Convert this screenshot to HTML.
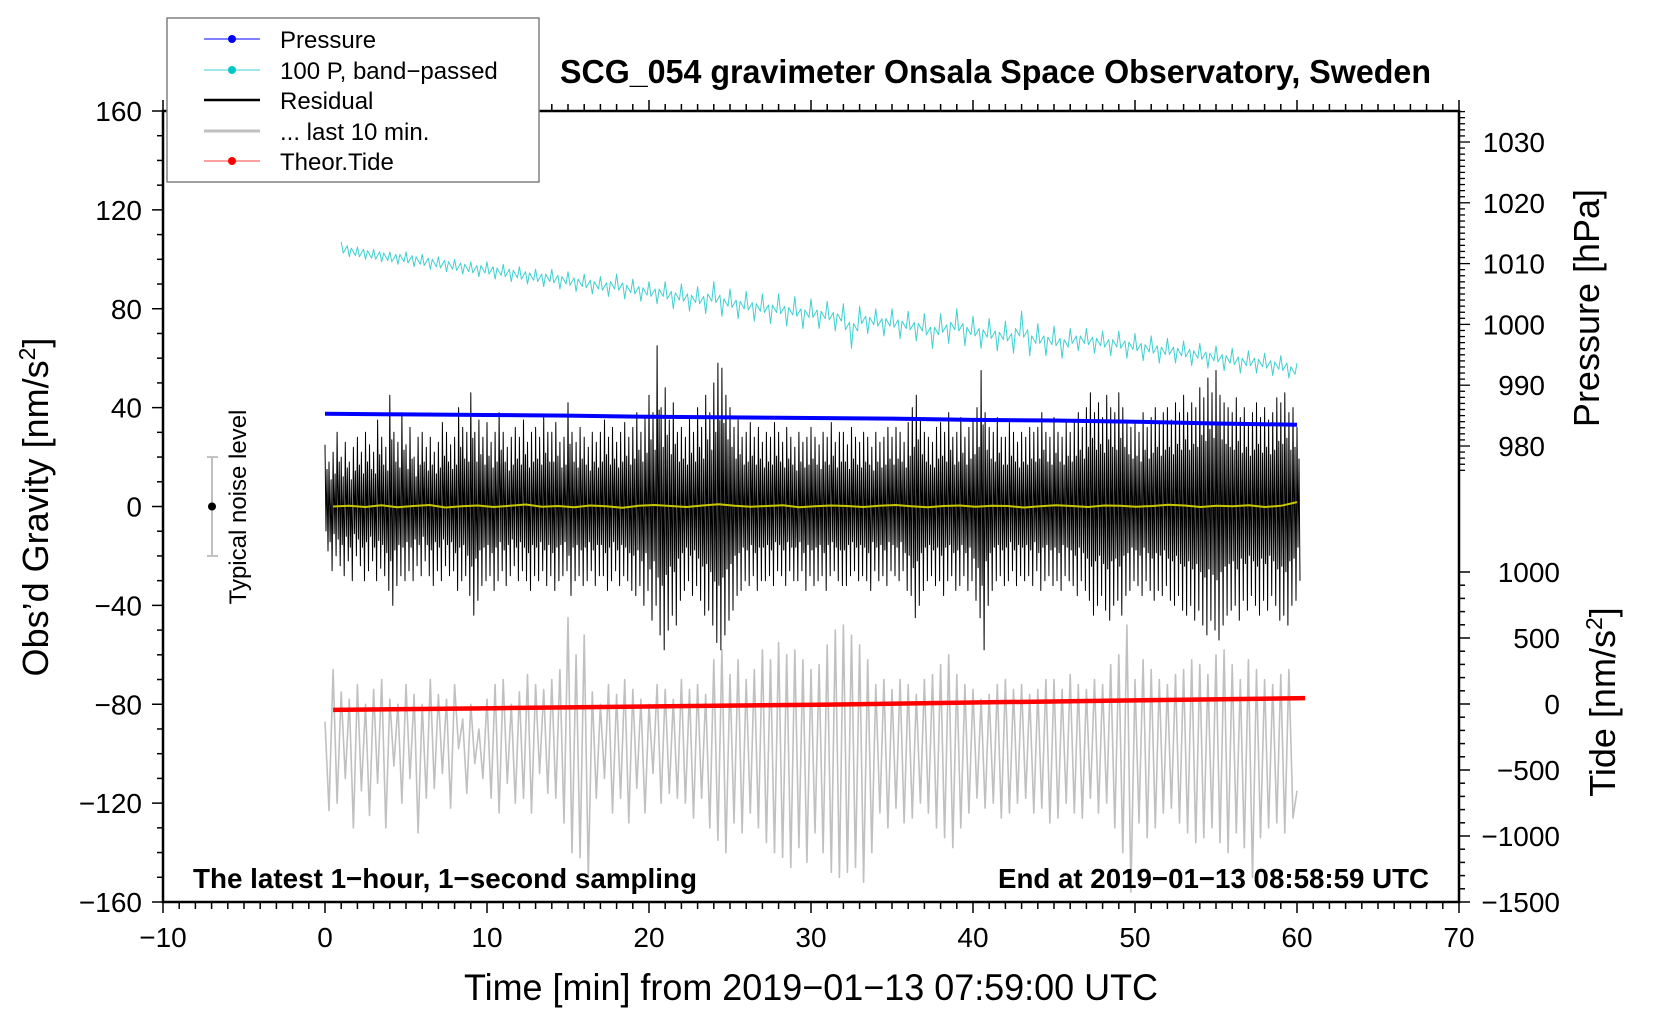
<!DOCTYPE html>
<html><head><meta charset="utf-8"><style>
body{margin:0;background:#fff;}
svg{display:block;font-family:"Liberation Sans",sans-serif;}
</style></head><body>
<svg id="chart" width="1660" height="1020" viewBox="0 0 1660 1020" xmlns="http://www.w3.org/2000/svg" style="position:absolute;left:0;top:0">
<g id="plot"></g>
<g id="axes"></g>
<g font-family="Liberation Sans, sans-serif">
<text x="560" y="83" font-size="33" font-weight="bold" textLength="871" lengthAdjust="spacingAndGlyphs">SCG_054 gravimeter Onsala Space Observatory, Sweden</text>
<text x="193" y="888" font-size="28" font-weight="bold" textLength="504" lengthAdjust="spacingAndGlyphs">The latest 1−hour, 1−second sampling</text>
<text x="998" y="888" font-size="28" font-weight="bold" textLength="431" lengthAdjust="spacingAndGlyphs">End at 2019−01−13 08:58:59 UTC</text>
<text x="464" y="1000" font-size="37" textLength="694" lengthAdjust="spacingAndGlyphs">Time [min] from 2019−01−13 07:59:00 UTC</text>
<text transform="translate(48,507) rotate(-90)" text-anchor="middle" font-size="36">Obs’d Gravity [nm/s<tspan font-size="23" dy="-13">2</tspan><tspan dy="13">]</tspan></text>
<text transform="translate(1599,308) rotate(-90)" text-anchor="middle" font-size="36">Pressure [hPa]</text>
<text transform="translate(1615,702) rotate(-90)" text-anchor="middle" font-size="36">Tide [nm/s<tspan font-size="23" dy="-13">2</tspan><tspan dy="13">]</tspan></text>
<g>
<rect x="167" y="18" width="372" height="164" fill="#fff" stroke="#808080" stroke-width="1.5"/>
<g><line x1="204" y1="39" x2="260" y2="39" stroke="#0000ff" stroke-width="1"/><circle cx="232" cy="39" r="4" fill="#0000ff"/><text x="280" y="48" font-size="24">Pressure</text></g>
<g><line x1="204" y1="70" x2="260" y2="70" stroke="#40d0d0" stroke-width="1"/><circle cx="232" cy="70" r="4" fill="#00c8c8"/><text x="280" y="79" font-size="24">100 P, band−passed</text></g>
<g><line x1="204" y1="100" x2="260" y2="100" stroke="#000" stroke-width="2.5"/><text x="280" y="109" font-size="24">Residual</text></g>
<g><line x1="204" y1="131" x2="260" y2="131" stroke="#c0c0c0" stroke-width="3"/><text x="280" y="140" font-size="24">... last 10 min.</text></g>
<g><line x1="204" y1="161" x2="260" y2="161" stroke="#ff4040" stroke-width="1"/><circle cx="232" cy="161" r="4" fill="#ff0000"/><text x="280" y="170" font-size="24">Theor.Tide</text></g>
</g>
</g>
</svg>
<script>
// ---- data ----
const xTicks = [-10,0,10,20,30,40,50,60,70];
const gTicks = [-160,-120,-80,-40,0,40,80,120,160];
const pTicks = [980,990,1000,1010,1020,1030];
const tideTicks = [-1500,-1000,-500,0,500,1000];
const pressureT = [0,5,10,15,20,25,30,35,40,45,50,55,60];
const pressureHpa = [985.3,985.2,985.1,985.0,984.8,984.7,984.6,984.5,984.3,984.2,984.0,983.7,983.5];
const tideT = [0.5,10.5,20.5,30.5,40.5,50.5,60.5];
const tideVals = [-45,-32,-18,-5,12,28,45];
const resHi = [25,18,22,30,20,26,18,24,28,22,30,25,22,35,28,24,45,30,26,38,25,32,20,28,30,24,28,22,26,34,30,25,28,40,32,30,46,30,35,28,34,26,30,38,30,24,28,32,28,35,26,30,32,28,36,30,30,34,26,28,42,30,26,32,28,24,30,26,30,35,28,32,26,30,34,28,32,38,30,36,45,38,65,40,48,35,42,30,32,28,36,30,40,32,45,38,50,58,56,45,40,32,35,28,30,34,28,32,26,30,28,34,30,26,32,28,24,30,26,28,32,28,25,30,28,34,26,30,30,25,32,28,26,30,28,24,30,26,28,32,28,32,30,26,34,40,45,35,30,28,26,32,34,30,38,28,30,36,28,32,35,40,55,38,32,30,36,28,28,34,30,26,30,28,32,30,32,38,30,28,36,30,28,34,30,34,38,32,40,46,38,42,36,45,40,38,46,40,35,32,34,30,38,32,36,40,34,38,40,35,42,38,45,38,42,40,48,44,52,46,55,45,42,40,38,44,36,40,34,38,42,36,40,35,38,44,42,46,38,40,32];
const resLo = [-18,-26,-20,-24,-28,-22,-30,-20,-24,-30,-26,-22,-30,-25,-28,-34,-40,-32,-28,-30,-26,-30,-24,-28,-22,-28,-32,-26,-30,-24,-28,-26,-34,-30,-28,-36,-44,-38,-32,-30,-28,-34,-30,-26,-32,-28,-24,-30,-26,-30,-34,-28,-30,-26,-32,-28,-34,-30,-28,-26,-36,-30,-28,-32,-30,-26,-32,-28,-28,-34,-30,-26,-32,-28,-30,-34,-36,-32,-40,-34,-46,-40,-52,-58,-50,-44,-48,-38,-34,-30,-36,-32,-38,-44,-42,-48,-55,-58,-52,-46,-42,-36,-34,-30,-32,-28,-34,-30,-30,-28,-32,-26,-28,-32,-26,-30,-30,-26,-34,-28,-32,-30,-28,-34,-28,-26,-30,-32,-32,-28,-26,-30,-28,-30,-34,-26,-30,-28,-32,-26,-28,-30,-26,-34,-36,-45,-40,-34,-30,-28,-32,-30,-36,-30,-28,-34,-32,-28,-34,-30,-38,-45,-58,-40,-34,-30,-28,-32,-30,-26,-32,-28,-30,-28,-32,-26,-34,-30,-28,-32,-30,-34,-28,-30,-32,-36,-30,-34,-38,-44,-40,-36,-42,-46,-40,-38,-44,-36,-34,-30,-32,-36,-30,-34,-38,-34,-36,-32,-38,-40,-36,-42,-44,-40,-46,-42,-48,-52,-46,-50,-54,-48,-44,-42,-40,-46,-38,-42,-36,-40,-44,-38,-42,-36,-40,-46,-44,-48,-40,-38,-30];
const grayVals = [-87,-123,-66,-120,-75,-110,-78,-130,-72,-115,-80,-125,-74,-112,-70,-130,-78,-105,-80,-120,-72,-110,-76,-132,-80,-118,-70,-114,-76,-108,-78,-122,-72,-98,-86,-116,-80,-104,-90,-110,-78,-118,-72,-124,-70,-112,-80,-120,-75,-118,-68,-124,-72,-108,-74,-116,-70,-118,-66,-128,-45,-140,-60,-142,-52,-150,-75,-118,-80,-110,-72,-124,-76,-118,-70,-128,-74,-114,-78,-124,-80,-108,-72,-120,-74,-116,-78,-118,-70,-120,-74,-126,-72,-118,-76,-130,-62,-135,-58,-140,-68,-128,-62,-132,-70,-124,-66,-130,-58,-136,-62,-140,-55,-142,-60,-146,-58,-138,-62,-144,-66,-132,-64,-140,-56,-148,-50,-150,-48,-148,-52,-146,-56,-152,-62,-140,-72,-124,-70,-130,-74,-122,-70,-128,-72,-126,-76,-120,-70,-124,-68,-130,-64,-134,-60,-138,-68,-130,-72,-124,-74,-118,-78,-122,-76,-120,-72,-126,-70,-124,-74,-120,-72,-118,-76,-124,-74,-122,-70,-128,-70,-126,-74,-120,-68,-124,-72,-126,-74,-118,-70,-124,-72,-120,-64,-130,-60,-140,-48,-156,-70,-128,-62,-134,-66,-130,-70,-124,-72,-122,-68,-128,-66,-132,-62,-136,-64,-134,-68,-130,-60,-136,-58,-140,-64,-132,-70,-138,-62,-150,-66,-134,-70,-130,-72,-128,-68,-132,-66,-126,-115];
const cyanVals = [107,101,105,100,104,99,103,98,103,97,102,96,101,95,100,94,99,93,99,92,98,91,97,90,96,89,96,88,95,87,94,86,93,85,94,84,92,83,91,82,91,80,90,79,89,78,91,77,88,76,87,75,86,74,86,73,85,72,84,72,83,71,82,64,81,70,80,69,80,68,79,67,78,64,78,66,80,65,77,64,76,63,75,62,79,61,74,61,73,60,72,63,72,62,71,61,71,60,70,59,69,58,68,58,67,57,66,56,65,55,64,54,63,54,62,53,61,52,58];
const yellowVals = [0,0.3,-0.2,0.5,-0.3,0.2,0.6,-0.4,0.1,0.4,-0.2,0.3,0.8,-0.1,0.2,-0.3,0.4,0.1,-0.5,0.3,0.6,0.2,-0.2,0.4,0.9,0.3,-0.1,0.2,0.5,-0.3,0.1,0.4,0.2,-0.2,0.3,0.6,0.1,-0.3,0.2,0.4,-0.1,0.3,0.2,-0.4,0.1,0.5,0.2,-0.2,0.4,0.3,-0.1,0.2,0.7,0.4,-0.2,0.3,0.1,0.5,-0.2,0.3,1.8];
// ---- scales ----
const X=t=>163+(t+10)*16.2;
const G=v=>111+(160-v)*(791/320);
const P=h=>446-(h-980)*6.08;
const T=v=>704-v*0.132;
const NS="http://www.w3.org/2000/svg";
function mk(tag,attrs,parent,text){const e=document.createElementNS(NS,tag);for(const k in attrs)e.setAttribute(k,attrs[k]);if(text!==undefined)e.textContent=text;parent.appendChild(e);return e;}
const plot=document.getElementById('plot'),axes=document.getElementById('axes');
function poly(pts,stroke,w,name){const e=mk('polyline',{points:pts.map(p=>p[0].toFixed(1)+','+p[1].toFixed(1)).join(' '),fill:'none',stroke:stroke,'stroke-width':w,'stroke-linejoin':'round'},plot);

return e;}
poly(grayVals.map((v,i)=>[X(i*0.25),G(v)]),'#c0c0c0',1.6,'last-10-min-line');
const rp=[];resHi.forEach((v,i)=>{const t=i*0.25;const lo=resLo[i];
rp.push([X(t),G(v)]);rp.push([X(t+0.0625),G(lo*0.55)]);rp.push([X(t+0.125),G(v*0.6)]);rp.push([X(t+0.1875),G(lo)]);});
poly(rp,'#000',1,'residual-line');
poly(yellowVals.map((v,i)=>[X(0.5+i*59.5/60),G(v)]),'#c8c800',2,'residual-smoothed-line');
const cp=[];cyanVals.forEach((v,i)=>{cp.push([X(1+i*0.5),G(v)]);if(i<cyanVals.length-1){const m=(v+cyanVals[i+1])/2;cp.push([X(1.125+i*0.5),G(m+(i%2?1.5:-1.5))]);cp.push([X(1.25+i*0.5),G(m)]);cp.push([X(1.375+i*0.5),G(m+(i%2?-1.5:1.5))]);}});
poly(cp,'#40d0d0',1,'pressure-bandpassed-line');
poly(pressureT.map((t,i)=>[X(t),P(pressureHpa[i])]),'#0000ff',4,'pressure-line');
poly(tideT.map((t,i)=>[X(t),T(tideVals[i])]),'#ff0000',4.5,'theoretical-tide-line');
const nb=mk('line',{x1:212,y1:G(20),x2:212,y2:G(-20),stroke:'#c0c0c0','stroke-width':2},plot);


mk('line',{x1:207,y1:G(20),x2:218,y2:G(20),stroke:'#c0c0c0','stroke-width':2},plot);
mk('line',{x1:207,y1:G(-20),x2:218,y2:G(-20),stroke:'#c0c0c0','stroke-width':2},plot);
mk('circle',{cx:212,cy:G(0),r:4,fill:'#000'},plot);
const nt=mk('text',{x:0,y:0,transform:'translate(246,507) rotate(-90)','text-anchor':'middle','font-size':24},plot,'Typical noise level');


const fr=mk('rect',{x:163,y:111,width:1296,height:791,fill:'none',stroke:'#000','stroke-width':2.5},axes);


for(let t=-10;t<=70;t++){const maj=t%10===0;const l=maj?11:7;
mk('line',{x1:X(t),y1:902,x2:X(t),y2:902+l,stroke:'#000','stroke-width':1.5},axes);
mk('line',{x1:X(t),y1:111,x2:X(t),y2:111-l,stroke:'#000','stroke-width':1.5},axes);}
xTicks.forEach(t=>{const e=mk('text',{x:X(t),y:947,'text-anchor':'middle','font-size':28},axes,String(t).replace('-','\u2212'));

});
for(let v=-160;v<=160;v+=10){const maj=v%40===0;mk('line',{x1:163,y1:G(v),x2:163-(maj?11:6),y2:G(v),stroke:'#000','stroke-width':1.5},axes);}
gTicks.forEach(v=>{const e=mk('text',{x:142,y:G(v)+10,'text-anchor':'end','font-size':28},axes,String(v).replace('-','\u2212'));

});
for(let h=976;h<=1035;h++){const maj=h%10===0;mk('line',{x1:1459,y1:P(h),x2:1459+(maj?11:6),y2:P(h),stroke:'#000','stroke-width':1.3},axes);}
pTicks.forEach(h=>{const e=mk('text',{x:1545,y:P(h)+10,'text-anchor':'end','font-size':28},axes,String(h));

});
for(let v=-1500;v<=1000;v+=100){const maj=v%500===0;mk('line',{x1:1459,y1:T(v),x2:1459+(maj?11:6),y2:T(v),stroke:'#000','stroke-width':1.5},axes);}
tideTicks.forEach(v=>{const e=mk('text',{x:1560,y:T(v)+10,'text-anchor':'end','font-size':28},axes,String(v).replace('-','\u2212'));

});
</script>
</body></html>
